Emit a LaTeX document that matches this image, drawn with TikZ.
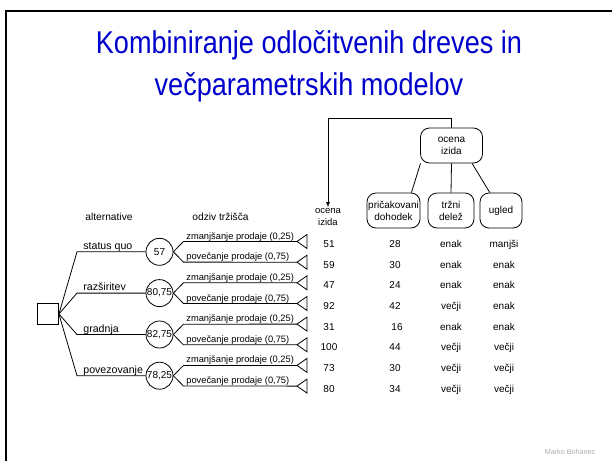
\documentclass[tikz,border=0pt]{standalone}
\usepackage{fontspec}
\setmainfont{Liberation Sans}
\newfontfamily\naslovfont[FakeStretch=0.86]{Liberation Sans}
\definecolor{naslovmodra}{RGB}{0,0,204}
\definecolor{podpis}{RGB}{170,170,170}

\begin{document}
\begin{tikzpicture}[x=1pt, y=-1pt, >=latex, line width=0.8pt,
    besedilo/.style={font=\fontsize{10.2}{12}\selectfont, inner sep=0pt},
    veja/.style={font=\fontsize{9.3}{11}\selectfont, inner sep=0pt, anchor=base west},
    vrednost/.style={font=\fontsize{10}{12}\selectfont, inner sep=0pt, anchor=base},
    sansa/.style={draw, circle, minimum size=27pt, inner sep=0pt, font=\fontsize{10}{12}\selectfont},
    atribut/.style={draw, rounded corners=9pt, minimum height=35pt, inner sep=1pt, align=center, font=\fontsize{10}{12}\selectfont}]

    \useasboundingbox (0,0) rectangle (612,461);

    % 1. Okvir in naslov
    \draw[line width=2.5pt] (6,461) -- (6,11) -- (612,11);
    \node[naslovmodra, font=\naslovfont\fontsize{31.5}{37}\selectfont, anchor=base] (naslov1) at (309,53.5) {Kombiniranje odločitvenih dreves in};
    \node[naslovmodra, font=\naslovfont\fontsize{31.5}{37}\selectfont, anchor=base] (naslov2) at (309,95) {večparametrskih modelov};

    % 2. Glave stolpcev
    \node[besedilo, anchor=base] (glava1) at (109,220.5) {alternative};
    \node[besedilo, anchor=base] (glava2) at (220.5,220.5) {odziv tržišča};
    \node[besedilo, align=center, font=\fontsize{9.5}{11.5}\selectfont, inner sep=1pt] (izid) at (328,217) {ocena\\izida};

    % 3. Model z atributi
    \node[atribut, minimum width=62pt] (ocena) at (451.5,145.5) {ocena\\izida};
    \node[atribut, minimum width=53pt] (dohodek) at (393.5,210.5) {pričakovani\\dohodek};
    \node[atribut, minimum width=46pt] (delez) at (451,210.5) {tržni\\delež};
    \node[atribut, minimum width=42pt] (ugled) at (501,210.5) {ugled};
    \draw (ocena.210) -- (dohodek.45);
    \draw (ocena.south) -- (delez.north);
    \draw (ocena.319) -- (ugled.122);

    % 4. Povratna puščica
    \coordinate (zavoj) at (328,118);
    \draw[->] (ocena.north) |- (zavoj) -- (izid.north);

    % 5. Odločitveno vozlišče in alternative
    \node[draw, minimum size=21pt, inner sep=0pt] (odl) at (48,314) {};
    \coordinate (a1) at (77,251.8);
    \coordinate (a2) at (77,293.1);
    \coordinate (a3) at (77,334.5);
    \coordinate (a4) at (77,375.7);
    \node[sansa] (s1) at (159.5,251.8) {57};
    \node[sansa] (s2) at (159.5,293.1) {80,75};
    \node[sansa] (s3) at (159.5,334.5) {82,75};
    \node[sansa] (s4) at (159.5,375.7) {78,25};
    \draw (odl.east) -- (a1) -- (s1);
    \draw (odl.east) -- (a2) -- (s2);
    \draw (odl.east) -- (a3) -- (s3);
    \draw (odl.east) -- (a4) -- (s4);
    \node[besedilo, anchor=base west, font=\fontsize{10.6}{13}\selectfont] (al1) at (83,249.5) {status quo};
    \node[besedilo, anchor=base west, font=\fontsize{10.6}{13}\selectfont] (al2) at (83,290.8) {razširitev};
    \node[besedilo, anchor=base west, font=\fontsize{10.6}{13}\selectfont] (al3) at (83,332.2) {gradnja};
    \node[besedilo, anchor=base west, font=\fontsize{10.6}{13}\selectfont] (al4) at (83,373.4) {povezovanje};

    % 6. Odzivi trga in končna vozlišča
    \coordinate (c1) at (297,241.5);
    \coordinate (c2) at (297,262.2);
    \coordinate (c3) at (297,282.8);
    \coordinate (c4) at (297,303.5);
    \coordinate (c5) at (297,324.1);
    \coordinate (c6) at (297,344.8);
    \coordinate (c7) at (297,365.4);
    \coordinate (c8) at (297,386.1);
    \draw (s1.east) -- ++(10,-10.3) -- (c1);
    \draw (s1.east) -- ++(10,10.3) -- (c2);
    \draw (s2.east) -- ++(10,-10.3) -- (c3);
    \draw (s2.east) -- ++(10,10.3) -- (c4);
    \draw (s3.east) -- ++(10,-10.3) -- (c5);
    \draw (s3.east) -- ++(10,10.3) -- (c6);
    \draw (s4.east) -- ++(10,-10.3) -- (c7);
    \draw (s4.east) -- ++(10,10.3) -- (c8);
    \draw (c1) -- ++(10,-7) -- ++(0,14) -- cycle (c2) -- ++(10,-7) -- ++(0,14) -- cycle
          (c3) -- ++(10,-7) -- ++(0,14) -- cycle (c4) -- ++(10,-7) -- ++(0,14) -- cycle
          (c5) -- ++(10,-7) -- ++(0,14) -- cycle (c6) -- ++(10,-7) -- ++(0,14) -- cycle
          (c7) -- ++(10,-7) -- ++(0,14) -- cycle (c8) -- ++(10,-7) -- ++(0,14) -- cycle;
    \node[veja] (o1) at (186,239) {zmanjšanje prodaje (0,25)};
    \node[veja] (o2) at (186,259.7) {povečanje prodaje (0,75)};
    \node[veja] (o3) at (186,280.3) {zmanjšanje prodaje (0,25)};
    \node[veja] (o4) at (186,301) {povečanje prodaje (0,75)};
    \node[veja] (o5) at (186,321.6) {zmanjšanje prodaje (0,25)};
    \node[veja] (o6) at (186,342.3) {povečanje prodaje (0,75)};
    \node[veja] (o7) at (186,362.9) {zmanjšanje prodaje (0,25)};
    \node[veja] (o8) at (186,383.6) {povečanje prodaje (0,75)};

    % 7. Vrednosti atributov
    \node[vrednost] (iz1) at (329,247.5) {51};  \node[vrednost] (do1) at (395,247.5) {28};
    \node[vrednost] (tr1) at (451,247.5) {enak}; \node[vrednost] (ug1) at (504,247.5) {manjši};
    \node[vrednost] (iz2) at (329,268.2) {59};  \node[vrednost] (do2) at (395,268.2) {30};
    \node[vrednost] (tr2) at (451,268.2) {enak}; \node[vrednost] (ug2) at (504,268.2) {enak};
    \node[vrednost] (iz3) at (329,288.8) {47};  \node[vrednost] (do3) at (395,288.8) {24};
    \node[vrednost] (tr3) at (451,288.8) {enak}; \node[vrednost] (ug3) at (504,288.8) {enak};
    \node[vrednost] (iz4) at (329,309.5) {92};  \node[vrednost] (do4) at (395,309.5) {42};
    \node[vrednost] (tr4) at (451,309.5) {večji}; \node[vrednost] (ug4) at (504,309.5) {enak};
    \node[vrednost] (iz5) at (329,330.1) {31};  \node[vrednost] (do5) at (397,330.1) {16};
    \node[vrednost] (tr5) at (451,330.1) {enak}; \node[vrednost] (ug5) at (504,330.1) {enak};
    \node[vrednost] (iz6) at (329,350.8) {100}; \node[vrednost] (do6) at (395,350.8) {44};
    \node[vrednost] (tr6) at (451,350.8) {večji}; \node[vrednost] (ug6) at (504,350.8) {večji};
    \node[vrednost] (iz7) at (329,371.4) {73};  \node[vrednost] (do7) at (395,371.4) {30};
    \node[vrednost] (tr7) at (451,371.4) {večji}; \node[vrednost] (ug7) at (504,371.4) {večji};
    \node[vrednost] (iz8) at (329,392.1) {80};  \node[vrednost] (do8) at (395,392.1) {34};
    \node[vrednost] (tr8) at (451,392.1) {večji}; \node[vrednost] (ug8) at (504,392.1) {večji};

    % 8. Podpis
    \node[font=\fontsize{7.2}{8}\selectfont, text=podpis] (avtor) at (570,451.5) {Marko Bohanec};
\end{tikzpicture}
\end{document}
